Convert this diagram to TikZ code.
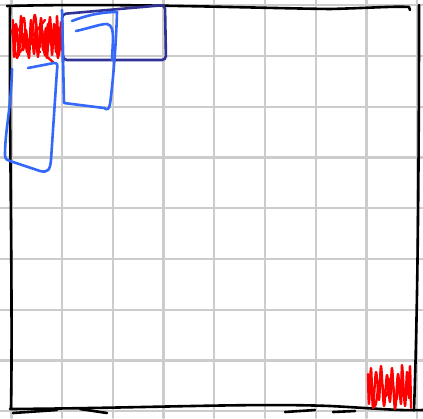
\documentclass[tikz,border=0pt]{standalone}
\definecolor{gridgray}{RGB}{204,204,204}
\definecolor{penblue}{RGB}{52,104,250}
\definecolor{pennavy}{RGB}{48,50,150}
\begin{document}
\begin{tikzpicture}[x=1pt, y=-1pt, line join=round, line cap=round,
	gridline/.style={gridgray, line width=2.3pt},
	border/.style={black, line width=2.6pt},
	scribble/.style={red, line width=2.3pt},
	bluepen/.style={penblue, line width=2.6pt},
	navypen/.style={pennavy, line width=2.6pt, rounded corners=4pt}]
	\useasboundingbox (0,0) rectangle (423,418);
	
	% Lưới nền
	\foreach \i in {0,...,8} {
		\draw[gridline] ({11.5+50.7*\i},0) -- ({11.5+50.7*\i},418);
		\draw[gridline] (0,{5.3+50.75*\i}) -- (423,{5.3+50.75*\i});
	}
	
	% Khung viền vẽ tay
	\draw[border] (7,6) .. controls (120,3) and (250,8) .. (330,9)
		.. controls (370,8) and (395,6) .. (409,7) -- (410,10);
	\draw[border] (419,5) .. controls (419,150) and (418,300) .. (414,410);
	\draw[border] (10,8) .. controls (9,120) and (13,300) .. (11,408);
	\draw[border] (10,409) .. controls (150,408) and (250,403) .. (330,406)
		.. controls (370,408) and (400,411) .. (423,410);
	\draw[border] (13,413) -- (57,410);
	\draw[border] (80,409) -- (107,413);
	\draw[border] (285,412) -- (315,410);
	\draw[border] (333,412) -- (355,411);
	
	% Vùng tô đỏ
	\draw[scribble] plot[smooth, tension=0.6] coordinates {(13,20) (14,57) (16,24) (19,55)
		(21,16) (23,50) (26,30) (29,58) (31,20) (34,54) (36,26) (38,57) (41,18) (43,50)
		(46,28) (47,58) (50,17) (52,55) (54,24) (56,52) (57,16) (59,55) (61,22) (62,50)};
	\draw[scribble] plot[smooth, tension=0.6] coordinates {(12,30) (17,58) (20,34)
		(24,18) (27,52) (32,35) (35,15) (39,48) (42,30) (45,55) (48,24) (51,45) (55,30)
		(58,58) (60,28)};
	\draw[scribble] (14,25) -- (40,52) (20,52) -- (45,20) (45,55) -- (53,62);
	\draw[scribble] plot[smooth, tension=0.6] coordinates {(368,374) (369,404) (371,368)
		(373,408) (376,372) (379,400) (381,366) (384,406) (387,375) (390,402) (392,368)
		(395,409) (398,374) (401,404) (402,365) (405,406) (407,372) (409,398) (410,366)
		(411,408)};
	\draw[scribble] plot[smooth, tension=0.6] coordinates {(370,385) (375,406)
		(380,380) (386,396) (391,378) (396,400) (400,382) (406,398)};
	
	% Hình chữ nhật xanh đậm
	\draw[navypen] (63,58) -- (62,14) -- (165,5) -- (166,60) -- (63,60) -- cycle;
	
	% Các hình xanh
	\draw[bluepen] (12,69) .. controls (11,110) and (5,130) .. (5,155)
		.. controls (5,160) and (8,160) .. (10,161) -- (40,171)
		.. controls (48,173) and (50,170) .. (51,160) -- (57,70)
		.. controls (58,64) and (57,63) .. (54,63) -- (28,68);
	\draw[bluepen] (72,21) .. controls (90,14) and (105,12) .. (117,12)
		.. controls (116,50) and (112,90) .. (110,104)
		.. controls (109,110) and (107,110) .. (104,108) -- (64,103) -- (62,10);
	\draw[bluepen] (76,31) .. controls (90,28) and (100,24) .. (107,24)
		.. controls (112,25) and (113,30) .. (113,40) -- (112,60);
\end{tikzpicture}
\end{document}
